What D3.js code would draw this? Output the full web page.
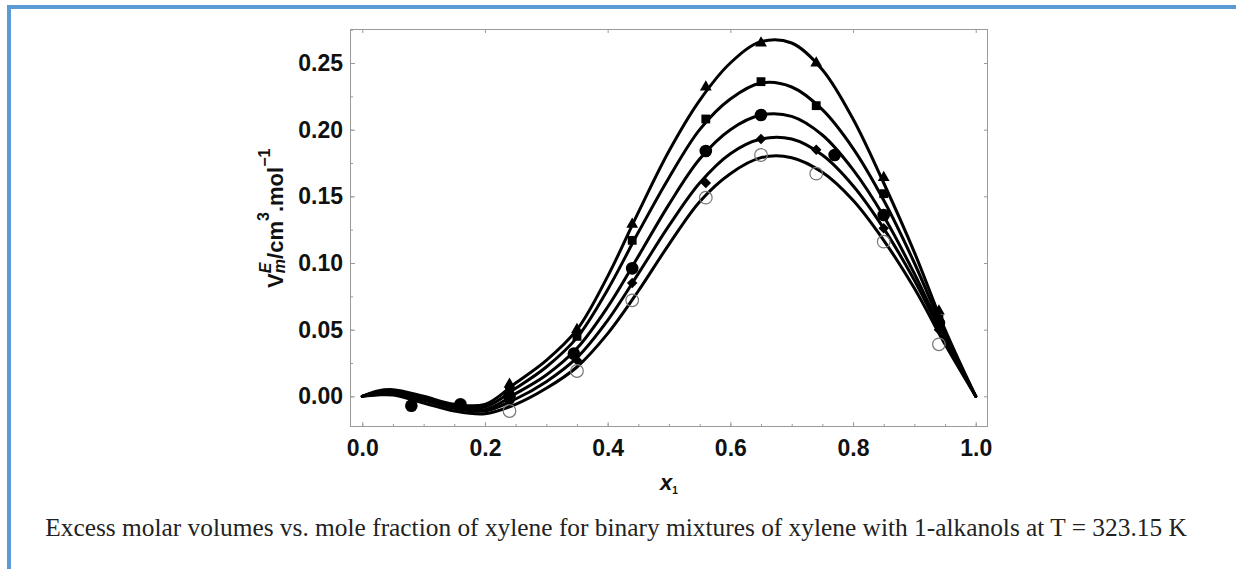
<!DOCTYPE html>
<html>
<head>
<meta charset="utf-8">
<script src="https://cdn.jsdelivr.net/npm/d3@7"></script>
<style>
  html, body { margin: 0; padding: 0; background: #fff; }
  svg { display: block; }
</style>
</head>
<body>
<svg id="chart" width="1236" height="569"></svg>
<script>
// ---------- data ----------
const xTicks = [0.0, 0.2, 0.4, 0.6, 0.8, 1.0];
const yTicks = [0.00, 0.05, 0.10, 0.15, 0.20, 0.25];

// fitted curves, sampled at these mole fractions
const curveX = [0, 0.025, 0.05, 0.1, 0.15, 0.2, 0.25, 0.3, 0.35, 0.4, 0.45, 0.5, 0.55, 0.6, 0.65, 0.7, 0.75, 0.8, 0.85, 0.9, 0.95, 1.0];
const curveTriangle = [0, 0.004, 0.005, 0.000, -0.006, -0.006, 0.010, 0.027, 0.050, 0.090, 0.138, 0.184, 0.222, 0.250, 0.266, 0.265, 0.245, 0.208, 0.160, 0.108, 0.050, 0];
const curveSquare   = [0, 0.003, 0.004, -0.001, -0.007, -0.008, 0.006, 0.022, 0.044, 0.080, 0.123, 0.164, 0.200, 0.223, 0.235, 0.232, 0.215, 0.186, 0.147, 0.100, 0.047, 0];
const curveCircle   = [0, 0.003, 0.003, -0.002, -0.008, -0.010, 0.002, 0.016, 0.036, 0.067, 0.105, 0.144, 0.178, 0.200, 0.211, 0.210, 0.196, 0.170, 0.135, 0.092, 0.044, 0];
const curveDiamond  = [0, 0.002, 0.002, -0.003, -0.009, -0.011, -0.002, 0.011, 0.029, 0.057, 0.092, 0.128, 0.160, 0.182, 0.193, 0.193, 0.181, 0.158, 0.126, 0.087, 0.042, 0];
const curveOpen     = [0, 0.001, 0.001, -0.005, -0.011, -0.013, -0.006, 0.006, 0.022, 0.047, 0.079, 0.114, 0.146, 0.167, 0.179, 0.179, 0.168, 0.147, 0.117, 0.081, 0.039, 0];

// experimental points
const ptsTriangleX = [0.24, 0.35, 0.44, 0.56, 0.65, 0.74, 0.85, 0.94];
const ptsTriangleY = [0.009, 0.050, 0.129, 0.232, 0.265, 0.250, 0.164, 0.064];
const ptsSquareX   = [0.24, 0.35, 0.44, 0.56, 0.65, 0.74, 0.85, 0.94];
const ptsSquareY   = [0.004, 0.045, 0.117, 0.208, 0.236, 0.218, 0.152, 0.058];
const ptsCircleX   = [0.08, 0.16, 0.24, 0.345, 0.44, 0.56, 0.65, 0.77, 0.85, 0.94];
const ptsCircleY   = [-0.007, -0.006, 0.000, 0.032, 0.096, 0.184, 0.211, 0.181, 0.136, 0.055];
const ptsDiamondX  = [0.24, 0.35, 0.44, 0.56, 0.65, 0.74, 0.85, 0.94];
const ptsDiamondY  = [-0.004, 0.027, 0.085, 0.160, 0.193, 0.185, 0.126, 0.050];
const ptsOpenX     = [0.24, 0.35, 0.44, 0.56, 0.65, 0.74, 0.85, 0.94];
const ptsOpenY     = [-0.011, 0.019, 0.072, 0.149, 0.181, 0.167, 0.116, 0.039];

const caption = "Excess molar volumes vs. mole fraction of xylene for binary mixtures of xylene with 1-alkanols at T = 323.15 K";

// ---------- drawing ----------
const svg = d3.select("#chart");
const plot = { left: 350, right: 988, top: 29, bottom: 427 };
const x = d3.scaleLinear().domain([-0.02, 1.02]).range([plot.left, plot.right]);
const y = d3.scaleLinear().domain([-0.023, 0.2755]).range([plot.bottom, plot.top]);

const blue = "#5b9bd5";
svg.append("rect").attr("x", 7).attr("y", 5).attr("width", 1236 - 7).attr("height", 4).attr("fill", blue);
svg.append("rect").attr("x", 7).attr("y", 5).attr("width", 4).attr("height", 569 - 5).attr("fill", blue);

const axisColor = "#9a9a9a";
const labelFont = "'Liberation Sans', Arial, Helvetica, sans-serif";

function styleAxis(g) {
  g.select(".domain").remove();
  g.selectAll(".tick line").attr("stroke", axisColor).attr("stroke-width", 1);
  g.selectAll(".tick text").attr("font-family", labelFont).attr("font-weight", "bold")
    .attr("font-size", 23).attr("fill", "#111");
}

const minorX = d3.range(0, 1.0001, 0.05);
const minorY = d3.range(-0.0, 0.2751, 0.025);

// bottom
svg.append("g").attr("transform", `translate(0,${plot.bottom})`)
  .call(d3.axisBottom(x).tickValues(minorX).tickSize(-3).tickFormat(""))
  .call(styleAxis);
svg.append("g").attr("transform", `translate(0,${plot.bottom})`)
  .call(d3.axisBottom(x).tickValues(xTicks).tickSize(-5).tickPadding(13).tickFormat(d3.format(".1f")))
  .call(styleAxis);
// top
svg.append("g").attr("transform", `translate(0,${plot.top})`)
  .call(d3.axisTop(x).tickValues(xTicks).tickSize(-4).tickFormat(""))
  .call(styleAxis);
// left
svg.append("g").attr("transform", `translate(${plot.left},0)`)
  .call(d3.axisLeft(y).tickValues(minorY).tickSize(-3).tickFormat(""))
  .call(styleAxis);
svg.append("g").attr("transform", `translate(${plot.left},0)`)
  .call(d3.axisLeft(y).tickValues(yTicks).tickSize(-5).tickPadding(7).tickFormat(d3.format(".2f")))
  .call(styleAxis);
// right
svg.append("g").attr("transform", `translate(${plot.right},0)`)
  .call(d3.axisRight(y).tickValues(yTicks).tickSize(-4).tickFormat(""))
  .call(styleAxis);

// frame
svg.append("rect")
  .attr("x", plot.left + 0.5).attr("y", plot.top + 0.5)
  .attr("width", plot.right - plot.left - 1).attr("height", plot.bottom - plot.top - 1)
  .attr("fill", "none").attr("stroke", axisColor).attr("stroke-width", 1);

// curves
const line = d3.line().x(d => x(d[0])).y(d => y(d[1])).curve(d3.curveCatmullRom.alpha(0.5));
[curveTriangle, curveSquare, curveCircle, curveDiamond, curveOpen].forEach(vals => {
  svg.append("path")
    .datum(curveX.map((cx, i) => [cx, vals[i]]))
    .attr("d", line)
    .attr("fill", "none").attr("stroke", "#000").attr("stroke-width", 3)
    .attr("stroke-linejoin", "round").attr("stroke-linecap", "round");
});

// markers
const series = [
  { xs: ptsTriangleX, ys: ptsTriangleY, type: d3.symbolTriangle, size: 60, rot: 0, fill: "#000", stroke: "none" },
  { xs: ptsSquareX,   ys: ptsSquareY,   type: d3.symbolSquare,   size: 78, rot: 0, fill: "#000", stroke: "none" },
  { xs: ptsCircleX,   ys: ptsCircleY,   type: d3.symbolCircle,   size: 125, rot: 0, fill: "#000", stroke: "none" },
  { xs: ptsDiamondX,  ys: ptsDiamondY,  type: d3.symbolSquare,   size: 55, rot: 45, fill: "#000", stroke: "none" },
  { xs: ptsOpenX,     ys: ptsOpenY,     type: d3.symbolCircle,   size: 125, rot: 0, fill: "none", stroke: "#777" }
];
series.forEach(s => {
  svg.append("g").selectAll("path")
    .data(s.xs.map((px, i) => [px, s.ys[i]]))
    .join("path")
    .attr("d", d3.symbol().type(s.type).size(s.size))
    .attr("transform", d => `translate(${x(d[0])},${y(d[1])}) rotate(${s.rot})`)
    .attr("fill", s.fill).attr("stroke", s.stroke).attr("stroke-width", 1.2);
});

// y-axis title
const yt = svg.append("text")
  .attr("transform", "translate(283,288) rotate(-90)")
  .attr("font-family", labelFont).attr("font-weight", "bold").attr("font-size", 22).attr("fill", "#111");
yt.append("tspan").text("V");
yt.append("tspan").attr("font-style", "italic").attr("font-size", 16).attr("dy", -12).text("E");
yt.append("tspan").attr("font-style", "italic").attr("font-size", 16).attr("dx", -10.5).attr("dy", 14).text("m");
yt.append("tspan").attr("dy", -2).text("/cm");
yt.append("tspan").attr("font-size", 16).attr("dy", -14).text("3");
yt.append("tspan").attr("dy", 14).text(".mol");
yt.append("tspan").attr("font-size", 16).attr("dy", -13).text("\u22121");

// x-axis title
const xt = svg.append("text")
  .attr("x", (plot.left + plot.right) / 2).attr("y", 490)
  .attr("text-anchor", "middle")
  .attr("font-family", labelFont).attr("font-weight", "bold").attr("font-size", 22).attr("fill", "#111");
xt.append("tspan").attr("font-style", "italic").text("x");
xt.append("tspan").attr("font-size", 10).attr("dy", 4).text("1");

// caption
const cap = svg.append("text")
  .attr("x", 616).attr("y", 536).attr("text-anchor", "middle")
  .attr("font-family", "'Liberation Serif', 'Times New Roman', serif")
  .attr("font-size", 20).attr("fill", "#222").text(caption);
const w = cap.node().getComputedTextLength();
cap.attr("font-size", 20 * 1142 / w);
</script>
</body>
</html>
